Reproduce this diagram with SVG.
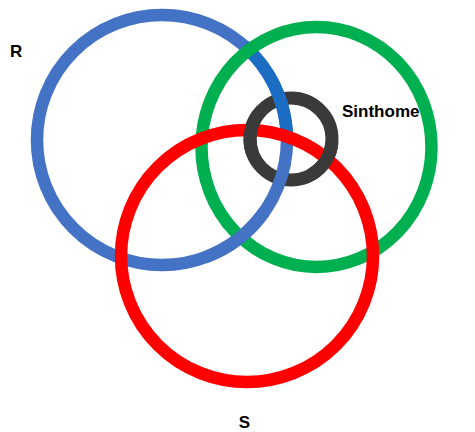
<svg xmlns="http://www.w3.org/2000/svg" width="475" height="432" viewBox="0 0 475 432">
<style>
.ring{fill:none;stroke-width:12.5}
.blue{stroke:#4472C4}
.dblue{stroke:#1A6DC2}
.green{stroke:#00B050}
.red{stroke:#FF0000}
.black{stroke:#3A3A3A;stroke-width:13}
.lbl{font-family:"Liberation Sans",Arial,sans-serif;font-weight:bold;font-size:17px;fill:#000}
</style>
<rect width="475" height="432" fill="#fff"/>
<g id="sinthome-ring"><circle class="ring black" cx="291" cy="139" r="41"/></g>
<g id="R"><circle class="ring blue" cx="162" cy="140" r="125"/>
<path class="ring dblue" d="M244.1,45.7 A125,125 0 0 1 286.9,135.6"/></g>
<g id="green-ring"><ellipse class="ring green" cx="316.5" cy="147" rx="115" ry="120"/></g>
<g id="connectors">
<path class="ring blue" d="M264.4,211.7 A125,125 0 0 1 204.8,257.5"/>
</g>
<g id="S"><circle class="ring red" cx="247" cy="256" r="126"/></g>
<g id="sinthome-over">
<path class="ring black" d="M252.5,153 A41,41 0 0 1 262,110"/>
<path class="ring black" d="M331.8,142.6 A41,41 0 0 1 311.5,174.5"/>
</g>
<g id="labels">
<text class="lbl" x="10" y="57">R</text>
<text class="lbl" x="342" y="117">Sinthome</text>
<text class="lbl" x="244.5" y="428" text-anchor="middle">S</text>
</g>
</svg>
